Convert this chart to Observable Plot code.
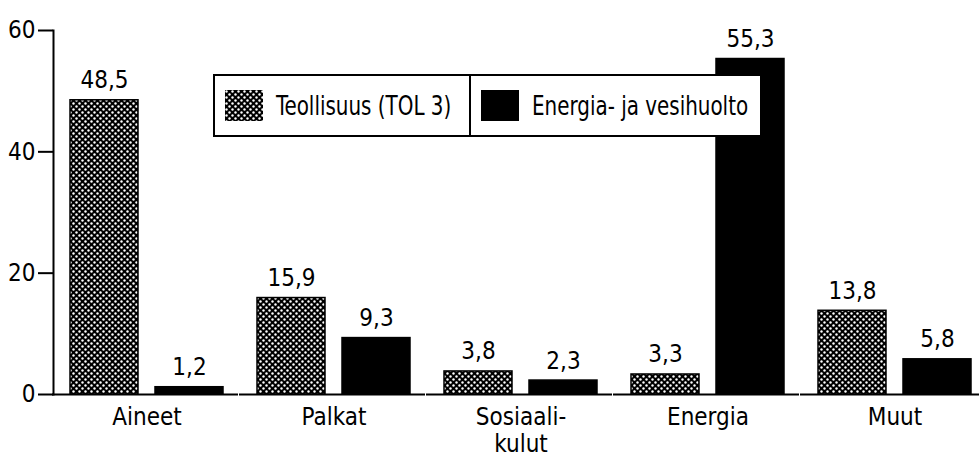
<!DOCTYPE html>
<html>
<head>
<meta charset="utf-8">
<script src="https://cdn.jsdelivr.net/npm/d3@7"></script>
<script src="https://cdn.jsdelivr.net/npm/@observablehq/plot@0.6"></script>
<style>
  html, body { margin: 0; padding: 0; background: #fff; }
  #wrap { position: relative; width: 979px; height: 469px; font-family: "DejaVu Sans Condensed", "DejaVu Sans", sans-serif; }
  #legend { position: absolute; left: 213px; top: 74px; width: 549px; height: 63px; box-sizing: border-box;
    border: 2px solid #000; background: #fff; display: flex; }
  #legend .cell { display: flex; align-items: center; height: 100%; box-sizing: border-box; overflow: hidden; }
  #legend .cell + .cell { border-left: 2px solid #000; }
  #legend .sw { width: 38px; height: 31px; margin-left: 10px; margin-right: 13px; flex: none; }
  #legend .lab { font-size: 27px; color: #000; white-space: nowrap; display: inline-block; transform: scaleX(0.82); transform-origin: left center; }
</style>
</head>
<body>
<svg width="0" height="0" style="position:absolute">
  <defs>
    <pattern id="dots" patternUnits="userSpaceOnUse" width="6" height="6">
      <rect width="6" height="6" fill="#000"></rect>
      <circle cx="1.5" cy="1.5" r="1.2" fill="#fff"></circle>
      <circle cx="4.5" cy="4.5" r="1.2" fill="#fff"></circle>
    </pattern>
  </defs>
</svg>
<div id="wrap"></div>
<script>
const categories = ["Aineet", "Palkat", "Sosiaali-\nkulut", "Energia", "Muut"];
const series = ["Teollisuus (TOL 3)", "Energia- ja vesihuolto"];
const teollisuus = [48.5, 15.9, 3.8, 3.3, 13.8];
const energiaVesi = [1.2, 9.3, 2.3, 55.3, 5.8];
const yTicks = [0, 20, 40, 60];

const data = [];
categories.forEach((c, i) => {
  data.push({category: c, series: series[0], value: teollisuus[i]});
  data.push({category: c, series: series[1], value: energiaVesi[i]});
});

const font = '"DejaVu Sans Condensed", "DejaVu Sans", sans-serif';
const fmt = v => v.toFixed(1).replace(".", ",");

const chart = Plot.plot({
  width: 979,
  height: 469,
  marginLeft: 70,
  marginRight: 7,
  marginTop: 30,
  marginBottom: 75,
  style: {fontFamily: font, color: "#000", background: "#fff"},
  fx: {domain: categories, paddingInner: 0.18, paddingOuter: 0, label: null},
  x: {domain: series, paddingInner: 0.2, paddingOuter: 0, axis: null},
  y: {domain: [0, 60]},
  color: {domain: series, range: ["url(#dots)", "#000"]},
  marks: [
    Plot.barY(data, {fx: "category", x: "series", y: "value", fill: "series", stroke: "#000", strokeWidth: 1.5}),
    Plot.text(data, {fx: "category", x: "series", y: "value", text: d => fmt(d.value), dy: -12, lineAnchor: "bottom", fontSize: 24, fill: "#000"}),
    Plot.ruleY([0], {insetLeft: -18, insetRight: -15, stroke: "#000", strokeWidth: 2}),
    Plot.frame({anchor: "left", facet: "super", insetLeft: -17, stroke: "#000", strokeWidth: 2}),
    Plot.axisY({ticks: yTicks, tickSize: 15, tickPadding: 3, dx: -17, fontSize: 24, label: null, strokeWidth: 2, tickFormat: d => String(d)}),
    Plot.axisFx({anchor: "bottom", tickSize: 0, tickPadding: 12, fontSize: 24, label: null, lineHeight: 1.1})
  ]
});

const wrap = document.getElementById("wrap");
wrap.appendChild(chart);

const legend = document.createElement("div");
legend.id = "legend";
const widths = [254, 295];
const swFills = ["url(#dots)", "#000"];
series.forEach((s, i) => {
  const cell = document.createElement("div");
  cell.className = "cell";
  cell.style.width = (i === 0 ? widths[0] : widths[1] - 4) + "px";
  cell.innerHTML = `<svg class="sw" viewBox="0 0 38 31"><rect x="0" y="0" width="38" height="31" fill="${swFills[i]}"></rect></svg><span class="lab">${s}</span>`;
  legend.appendChild(cell);
});
wrap.appendChild(legend);
</script>
</body>
</html>
